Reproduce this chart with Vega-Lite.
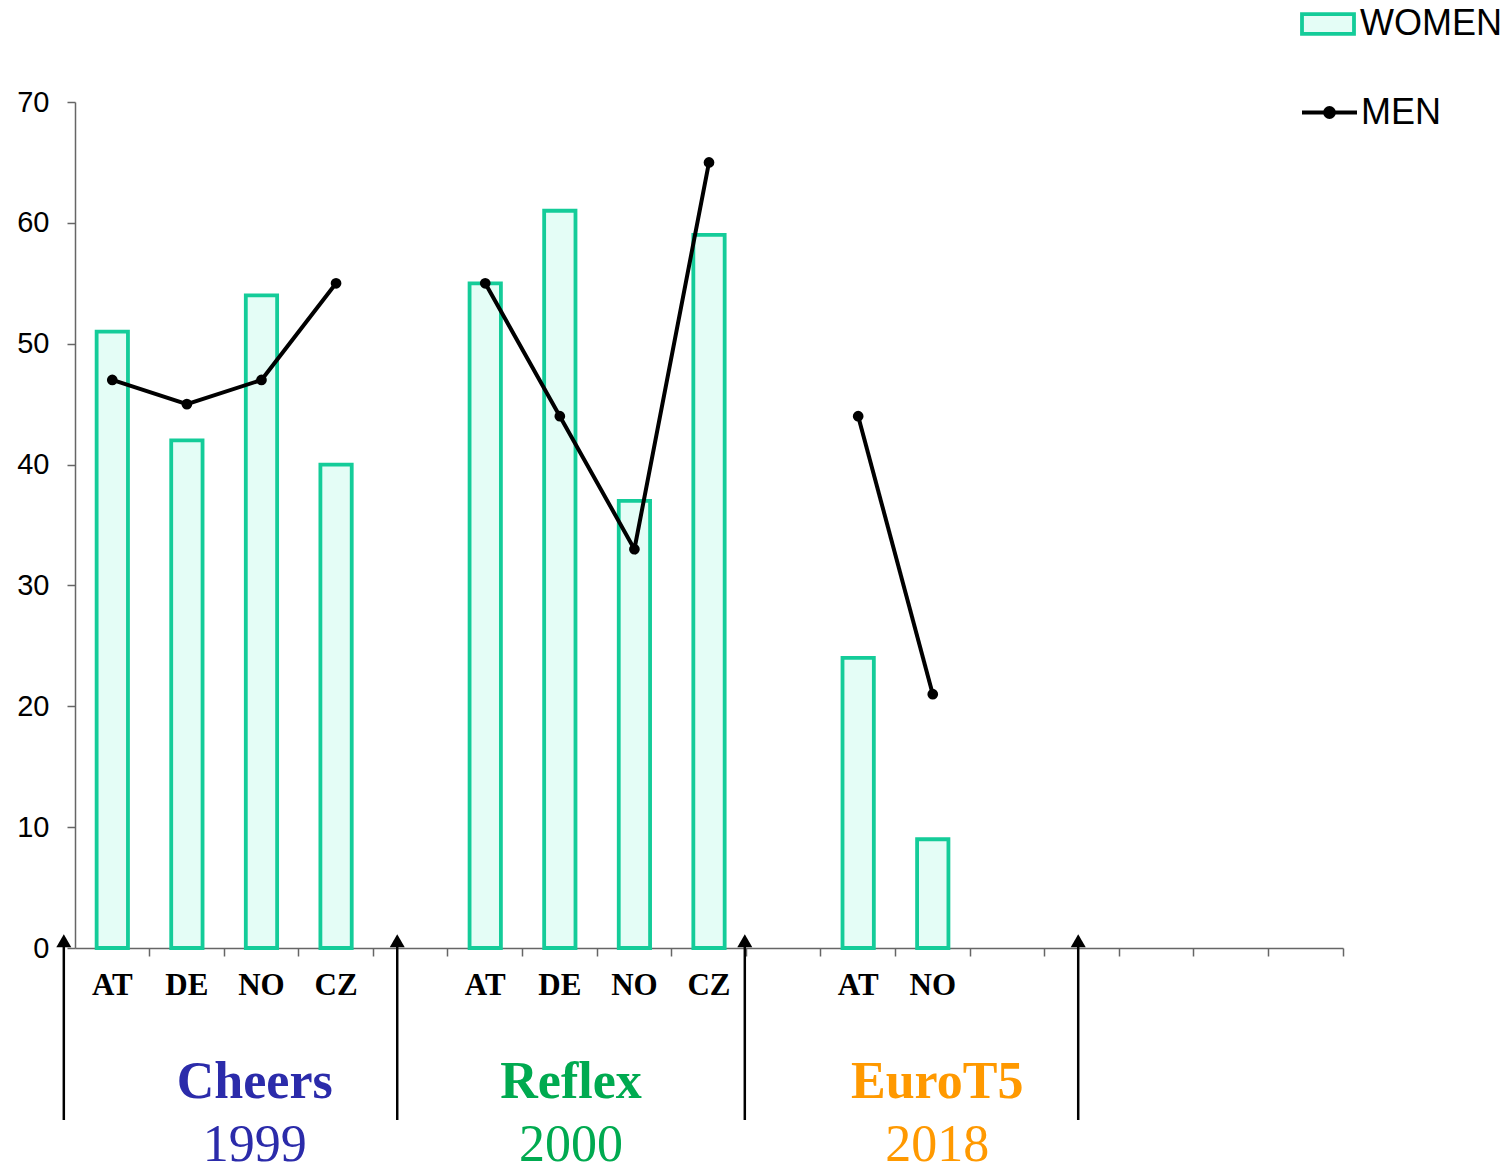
{
  "$schema": "https://vega.github.io/schema/vega-lite/v6.json",
  "width": 1268,
  "height": 846,
  "autosize": {"type": "none"},
  "padding": {"left": 75, "top": 102, "right": 166, "bottom": 220},
  "background": "white",
  "config": {
    "view": {"stroke": null},
    "axis": {
      "domainColor": "#666666",
      "domainWidth": 1.5,
      "tickColor": "#666666",
      "tickWidth": 1.5,
      "tickSize": 8,
      "grid": false,
      "labelColor": "black"
    }
  },
  "datasets": {
    "results": [
      {"key": "Cheers|AT", "study": "Cheers", "women": 51, "men": 47},
      {"key": "Cheers|DE", "study": "Cheers", "women": 42, "men": 45},
      {"key": "Cheers|NO", "study": "Cheers", "women": 54, "men": 47},
      {"key": "Cheers|CZ", "study": "Cheers", "women": 40, "men": 55},
      {"key": "Reflex|AT", "study": "Reflex", "women": 55, "men": 55},
      {"key": "Reflex|DE", "study": "Reflex", "women": 61, "men": 44},
      {"key": "Reflex|NO", "study": "Reflex", "women": 37, "men": 33},
      {"key": "Reflex|CZ", "study": "Reflex", "women": 59, "men": 65},
      {"key": "EuroT5|AT", "study": "EuroT5", "women": 24, "men": 44},
      {"key": "EuroT5|NO", "study": "EuroT5", "women": 9, "men": 21}
    ],
    "separators": [
      {"edge": -0.15},
      {"edge": 4.32},
      {"edge": 8.98},
      {"edge": 13.45}
    ],
    "studies": [
      {"study": "Cheers", "year": "1999", "mid": 2.41},
      {"study": "Reflex", "year": "2000", "mid": 6.65},
      {"study": "EuroT5", "year": "2018", "mid": 11.56}
    ]
  },
  "resolve": {"scale": {"x": "independent"}},
  "layer": [
    {
      "data": {"name": "results"},
      "layer": [
        {
          "mark": {"type": "bar", "stroke": "#14CC99", "strokeWidth": 3.8, "strokeJoin": "miter"},
          "encoding": {
            "x": {
              "field": "key",
              "type": "nominal",
              "sort": null,
              "scale": {
                "domain": ["Cheers|AT", "Cheers|DE", "Cheers|NO", "Cheers|CZ", "gap1|",
                           "Reflex|AT", "Reflex|DE", "Reflex|NO", "Reflex|CZ", "gap2|",
                           "EuroT5|AT", "EuroT5|NO", "gap3|", "gap4|", "gap5|", "gap6|", "gap7|"],
                "paddingInner": 0.58,
                "paddingOuter": 0.29
              },
              "axis": {
                "title": null,
                "labelAngle": 0,
                "labelExpr": "split(datum.value, '|')[1]",
                "labelFont": "Liberation Serif",
                "labelFontWeight": "bold",
                "labelFontSize": 31,
                "labelPadding": 14,
                "bandPosition": 1.6905
              }
            },
            "y": {
              "field": "women",
              "type": "quantitative",
              "scale": {"domain": [0, 70], "nice": false},
              "axis": {
                "title": null,
                "values": [0, 10, 20, 30, 40, 50, 60, 70],
                "labelFont": "Liberation Sans",
                "labelFontSize": 29,
                "labelPadding": 18
              }
            },
            "fill": {
              "datum": "WOMEN",
              "type": "nominal",
              "scale": {"range": ["#E4FDF6"]},
              "legend": {
                "title": null,
                "orient": "none",
                "legendX": 1225,
                "legendY": -106,
                "padding": 0,
                "symbolType": "M-1,-0.38H1V0.38H-1Z",
                "symbolSize": 2704,
                "symbolStrokeColor": "#14CC99",
                "symbolStrokeWidth": 3.8,
                "symbolOpacity": 1,
                "labelFont": "Liberation Sans",
                "labelFontSize": 36,
                "labelColor": "black",
                "labelOffset": 4
              }
            }
          }
        },
        {
          "mark": {"type": "line", "strokeWidth": 4},
          "encoding": {
            "x": {"field": "key", "type": "nominal"},
            "y": {"field": "men", "type": "quantitative"},
            "detail": {"field": "study"},
            "stroke": {
              "datum": "MEN",
              "type": "nominal",
              "scale": {"range": ["black"]},
              "legend": {
                "title": null,
                "orient": "none",
                "legendX": 1225,
                "legendY": -19,
                "padding": 0,
                "symbolType": "M-1,0H1M-0.16,0A0.16,0.16,0,1,0,0.16,0A0.16,0.16,0,1,0,-0.16,0Z",
                "symbolSize": 3025,
                "symbolStrokeWidth": 4,
                "symbolFillColor": "black",
                "symbolOpacity": 1,
                "labelFont": "Liberation Sans",
                "labelFontSize": 36,
                "labelColor": "black",
                "labelOffset": 2
              }
            }
          }
        },
        {
          "mark": {"type": "point", "filled": true, "color": "black", "opacity": 1, "size": 115},
          "encoding": {
            "x": {"field": "key", "type": "nominal"},
            "y": {"field": "men", "type": "quantitative"}
          }
        }
      ]
    },
    {
      "layer": [
        {
          "data": {"name": "separators"},
          "mark": {"type": "rule", "color": "black", "strokeWidth": 2.5},
          "encoding": {
            "x": {"field": "edge", "type": "quantitative", "scale": {"domain": [0, 17], "nice": false, "zero": false}, "axis": null},
            "y": {"datum": 0.5},
            "y2": {"datum": -14.23}
          }
        },
        {
          "data": {"name": "separators"},
          "mark": {"type": "point", "shape": "triangle-up", "filled": true, "color": "black", "opacity": 1, "size": 225},
          "encoding": {
            "x": {"field": "edge", "type": "quantitative"},
            "y": {"datum": 0.6}
          }
        },
        {
          "data": {"name": "studies"},
          "mark": {"type": "text", "font": "Liberation Serif", "fontWeight": "bold", "fontSize": 52, "align": "center", "baseline": "alphabetic"},
          "encoding": {
            "x": {"field": "mid", "type": "quantitative"},
            "y": {"datum": -12.41},
            "text": {"field": "study"},
            "color": {
              "field": "study",
              "type": "nominal",
              "scale": {"domain": ["Cheers", "Reflex", "EuroT5"], "range": ["#2B2BAA", "#00AA50", "#FF9900"]},
              "legend": null
            }
          }
        },
        {
          "data": {"name": "studies"},
          "mark": {"type": "text", "font": "Liberation Serif", "fontSize": 52, "align": "center", "baseline": "alphabetic"},
          "encoding": {
            "x": {"field": "mid", "type": "quantitative"},
            "y": {"datum": -17.65},
            "text": {"field": "year"},
            "color": {"field": "study", "type": "nominal", "legend": null}
          }
        }
      ]
    }
  ]
}
